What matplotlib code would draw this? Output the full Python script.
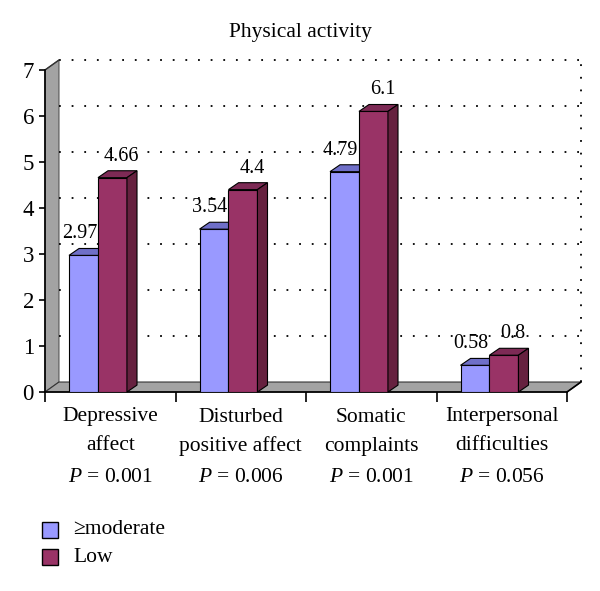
import matplotlib
matplotlib.use("Agg")
import matplotlib.pyplot as plt
import matplotlib.transforms as mtransforms
from matplotlib.patches import Polygon

categories = ["Depressive\naffect", "Disturbed\npositive affect", "Somatic\ncomplaints", "Interpersonal\ndifficulties"]
p_values = ["0.001", "0.006", "0.001", "0.056"]
moderate = [2.97, 3.54, 4.79, 0.58]
low = [4.66, 4.4, 6.1, 0.8]
moderate_labels = ["2.97", "3.54", "4.79", "0.58"]
low_labels = ["4.66", "4.4", "6.1", "0.8"]
series_names = ["\u2265moderate", "Low"]

plt.rcParams['font.family'] = ['Liberation Serif', 'DejaVu Serif']
plt.rcParams['mathtext.fontset'] = 'custom'
plt.rcParams['mathtext.it'] = 'Liberation Serif:italic'
plt.rcParams['mathtext.rm'] = 'Liberation Serif'

H = 591.0
fig = plt.figure(figsize=(6, 5.91), dpi=100)
ax = fig.add_axes([0.075, 1 - 392 / H, 0.87, 322 / H])
ax.set_xlim(0, 4)
ax.set_ylim(0, 7)

# depth offsets (data units)
wdx, wdy = 0.107, 0.217
bdx, bdy = 0.077, 0.15
bw = 0.222
off = 0.184

blue, blue_top = '#9999FF', '#6F6FC8'
red, red_top, red_side = '#993366', '#7D2A55', '#66213F'
gray = '#A3A3A3'

# left wall and floor
ax.add_patch(Polygon([(0, 0), (wdx, wdy), (wdx, 7 + wdy), (0, 7)], closed=True,
                     facecolor=gray, edgecolor='#555555', lw=0.8, clip_on=False, zorder=1))
ax.add_patch(Polygon([(0, 0), (4, 0), (4 + wdx, wdy), (wdx, wdy)], closed=True,
                     facecolor=gray, edgecolor='#333333', lw=0.8, clip_on=False, zorder=1))
ax.plot([4, 4 + wdx], [0, wdy], color='black', lw=1.2, clip_on=False, zorder=2)

# back wall gridlines
for v in range(1, 8):
    ax.plot([wdx, 4 + wdx], [v + wdy, v + wdy], color='black', lw=1.3,
            ls=(0, (1, 6)), clip_on=False, zorder=1)
ax.plot([4 + wdx, 4 + wdx], [wdy, 7 + wdy], color='black', lw=1.3,
        ls=(0, (1, 6)), clip_on=False, zorder=1)
ax.plot([0, wdx], [7, 7 + wdy], color='#333333', lw=1, clip_on=False, zorder=2)

trans = mtransforms.blended_transform_factory(ax.transData, fig.transFigure)

for i in range(len(categories)):
    x0 = i + off
    for j, (vals, face, top) in enumerate([(moderate, blue, blue_top), (low, red, red_top)]):
        xl = x0 + j * bw
        v = vals[i]
        ax.bar(xl, v, width=bw, align='edge', color=face, edgecolor='black', lw=0.8, zorder=3 + j)
        ax.add_patch(Polygon([(xl, v), (xl + bw, v), (xl + bw + bdx, v + bdy), (xl + bdx, v + bdy)],
                             closed=True, facecolor=top, edgecolor='black', lw=0.8,
                             clip_on=False, zorder=3 + j))
        if j == 1:
            ax.add_patch(Polygon([(xl + bw, 0), (xl + bw + bdx, bdy), (xl + bw + bdx, v + bdy), (xl + bw, v)],
                                 closed=True, facecolor=red_side, edgecolor='black', lw=0.8,
                                 clip_on=False, zorder=3 + j))
    ax.text(x0 + bw / 2 - 0.03, moderate[i] + 0.26, moderate_labels[i], ha='center', va='bottom',
            fontsize=14.5, zorder=6)
    ax.text(x0 + 1.5 * bw + 0.07, low[i] + 0.26, low_labels[i], ha='center', va='bottom',
            fontsize=14.5, zorder=6)
    line1, line2 = categories[i].split('\n')
    ax.text(i + 0.5, 1 - 417 / H, line1, transform=trans, ha='center', va='center', fontsize=15.5)
    ax.text(i + 0.5, 1 - 446 / H, line2, transform=trans, ha='center', va='center', fontsize=15.5)
    ax.text(i + 0.5, 1 - 478 / H, '$P$ = ' + p_values[i], transform=trans, ha='center', va='center',
            fontsize=15.5)

for s in ['top', 'right']:
    ax.spines[s].set_visible(False)
ax.spines['left'].set_linewidth(1.2)
ax.spines['bottom'].set_linewidth(1.2)
ax.spines['left'].set_zorder(2)
ax.spines['bottom'].set_zorder(2)
ax.set_xticks(range(5))
ax.set_xticklabels([])
ax.tick_params(axis='x', direction='out', length=7, width=1.2)
ax.set_yticks(range(8))
ax.tick_params(axis='y', direction='out', length=4, width=1.2, labelsize=16.5, pad=4)

fig.text(0.5, 1 - 32 / H, 'Physical activity', ha='center', va='center', fontsize=15.5)

# legend
for k, (name, c) in enumerate(zip(series_names, [blue, red])):
    yc = 530 + 27 * k
    y0, y1 = 1 - (yc + 8) / H, 1 - (yc - 8) / H
    fig.patches.append(Polygon([(42 / 600, y0), (58 / 600, y0), (58 / 600, y1), (42 / 600, y1)],
                               closed=True, transform=fig.transFigure, facecolor=c, edgecolor='black', lw=1))
    fig.text(73 / 600, 1 - yc / H, name, ha='left', va='center', fontsize=15.5)

fig.savefig('out.png', dpi=100)
